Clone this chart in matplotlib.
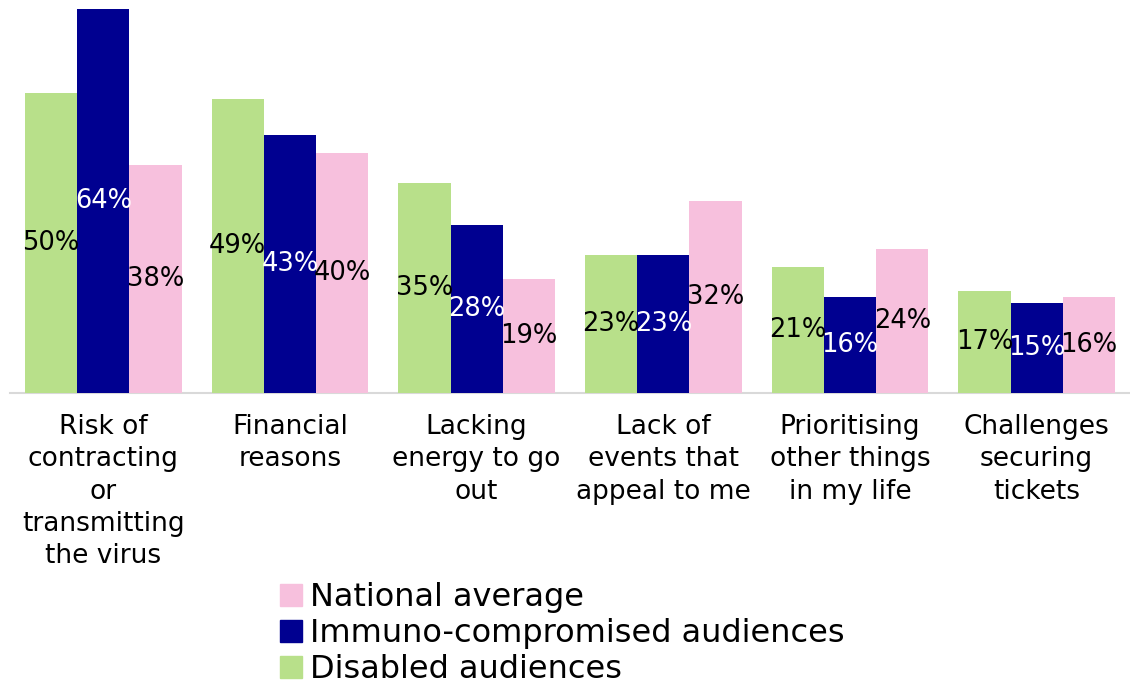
import numpy as np
import matplotlib
matplotlib.use("Agg")
import matplotlib.pyplot as plt
from matplotlib.patches import Patch

# data
categories = ["Risk of\ncontracting\nor\ntransmitting\nthe virus",
              "Financial\nreasons",
              "Lacking\nenergy to go\nout",
              "Lack of\nevents that\nappeal to me",
              "Prioritising\nother things\nin my life",
              "Challenges\nsecuring\ntickets"]
disabled = [50, 49, 35, 23, 21, 17]
immuno = [64, 43, 28, 23, 16, 15]
national = [38, 40, 19, 32, 24, 16]

series_names = ["Disabled audiences", "Immuno-compromised audiences", "National average"]
colors = ["#B8E08A", "#000090", "#F7C0DD"]
text_colors = ["black", "white", "black"]

plt.rcParams['font.family'] = ['DejaVu Sans']

fig = plt.figure(figsize=(11.3, 6.83), dpi=100)
ax = fig.add_axes([10 / 1130, 1 - 393 / 683, 1 - 10 / 1130, 393 / 683])

x = np.arange(len(categories))
w = 0.28
all_vals = [disabled, immuno, national]
for i, vals in enumerate(all_vals):
    pos = x + (i - 1) * w
    ax.bar(pos, vals, w, color=colors[i], label=series_names[i], zorder=2)
    for px, v in zip(pos, vals):
        ax.text(px, v / 2, f"{v}%", ha="center", va="center",
                color=text_colors[i], fontsize=18.5, zorder=3)

ax.set_xlim(-0.5, len(categories) - 0.5)
ax.set_ylim(0, 65.5)
ax.set_yticks([])
ax.set_xticks(x)
ax.set_xticklabels(categories, fontsize=19, linespacing=1.32)
ax.tick_params(axis="x", length=0, pad=15)
for s in ["top", "right", "left"]:
    ax.spines[s].set_visible(False)
ax.spines["bottom"].set_color("#d9d9d9")
ax.spines["bottom"].set_linewidth(1.5)
ax.spines["bottom"].set_zorder(1)

handles = [Patch(color=colors[i]) for i in range(3)][::-1]
labels = series_names[::-1]
fig.legend(handles, labels, loc="upper left", bbox_to_anchor=(280 / 1130, 1 - 582 / 683),
           frameon=False, fontsize=23, handlelength=0.7, handleheight=0.7,
           handletextpad=0.25, labelspacing=0.16, borderaxespad=0, borderpad=0)

fig.savefig("out.png", dpi=100)
